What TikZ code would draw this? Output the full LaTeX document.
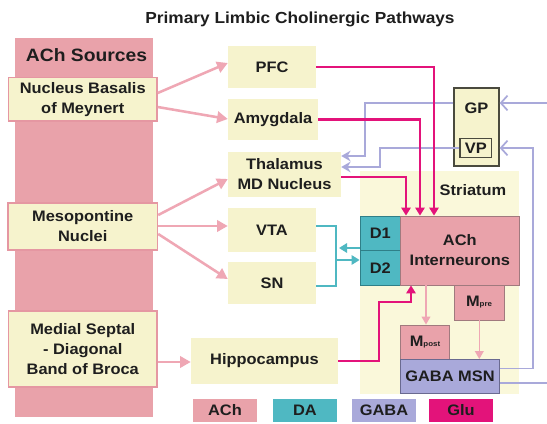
\documentclass[tikz,border=0pt]{standalone}
\usepackage{fontspec}
\setmainfont[FakeStretch=1.08]{Liberation Sans}
\usetikzlibrary{fit,arrows.meta}
\definecolor{achpink}{HTML}{E9A2AA}
\definecolor{arrpink}{HTML}{EFA7B4}
\definecolor{srcedge}{HTML}{E597A2}
\definecolor{ylw}{HTML}{F6F3CD}
\definecolor{ylwlight}{HTML}{FAF8DA}
\definecolor{datl}{HTML}{4FB8C2}
\definecolor{daedge}{HTML}{2F7F88}
\definecolor{gabac}{HTML}{A9A9DA}
\definecolor{gabaedge}{HTML}{6A6A90}
\definecolor{gluc}{HTML}{E3137A}
\definecolor{txt}{HTML}{1E1E1E}
\definecolor{achedge}{HTML}{A07A7E}
\definecolor{gpedge}{HTML}{4A4A3E}
\tikzset{
  bodyfont/.style={font=\bfseries\fontsize{11.4}{15}\selectfont},
  lbl/.style={inner sep=0pt, text=txt, align=center, bodyfont},
  srcbox/.style={fill=ylw, draw=srcedge, line width=1.1pt, inner sep=0pt},
  tgtbox/.style={fill=ylw, inner sep=0pt},
  achbox/.style={fill=achpink, draw=achedge, line width=0.6pt, inner sep=0pt},
  dabox/.style={fill=datl, draw=daedge, line width=0.6pt, inner sep=0pt},
  gababox/.style={fill=gabac, draw=gabaedge, line width=0.6pt, inner sep=0pt},
  gpbox/.style={fill=ylw, draw=gpedge, line width=1pt, inner sep=0pt},
  legbox/.style={inner sep=0pt},
  txtc/.style={label={[lbl]center:{#1}}},
  acharr/.style={draw=arrpink, line width=1.9pt, -{Triangle[length=8pt,width=8.5pt]}},
  acharrthin/.style={draw=arrpink, line width=1.2pt, -{Triangle[length=6pt,width=6.5pt]}},
  glu/.style={draw=gluc, line width=1.8pt, -{Triangle[length=6pt,width=7pt]}},
  daline/.style={draw=datl, line width=1.5pt},
  daarr/.style={draw=datl, line width=1.5pt, -{Triangle[length=6pt,width=7pt]}},
  gabaarr/.style={draw=gabac, line width=1.5pt, -{Stealth[length=7pt,width=8pt]}},
  gababarb/.style={draw=gabac, line width=1.3pt, -{Straight Barb[length=5pt,width=11pt]}}
}
\begin{document}
\begin{tikzpicture}[x=0.75pt,y=-0.75pt]
\clip (0,0) rectangle (547,424);
\fill[white] (0,0) rectangle (547,424);

% title
\node[lbl, font=\bfseries\fontsize{12}{14}\selectfont] (title) at (300,19) {Primary Limbic Cholinergic Pathways};

% ACh source column
\node[fit={(15,38.5)(152.7,417)}, inner sep=0pt, fill=achpink] (col) {};
\node[lbl, font=\bfseries\fontsize{13.4}{16}\selectfont] (colt) at (86.5,55) {ACh Sources};

\node[srcbox, fit={(8.5,77.5)(157,121)}, txtc={Nucleus Basalis\\of Meynert}] (nb) {};
\node[srcbox, fit={(8,203)(157.5,250)}, txtc={Mesopontine\\Nuclei}] (meso) {};
\node[srcbox, fit={(8.5,311)(157,387)}, txtc={Medial Septal\\- Diagonal\\Band of Broca}] (ms) {};

% targets
\node[tgtbox, fit={(228,46)(316,88)}, txtc={PFC}] (pfc) {};
\node[tgtbox, fit={(228,99)(318,140)}, txtc={Amygdala}] (amy) {};
\node[tgtbox, fit={(228,152)(341,197)}, txtc={Thalamus\\MD Nucleus}] (thal) {};
\node[tgtbox, fit={(228,208)(316,252)}, txtc={VTA}] (vta) {};
\node[tgtbox, fit={(228,262)(316,304)}, txtc={SN}] (sn) {};
\node[tgtbox, fit={(191,338)(338,384)}, txtc={Hippocampus}] (hip) {};

% striatum
\node[fit={(360,171.5)(518.5,394.5)}, inner sep=0pt, fill=ylwlight] (str) {};
\node[lbl] (strt) at (473,190) {Striatum};

% GP / VP
\node[gpbox, fit={(454,88)(499,166)}] (gp) {};
\node[lbl] (gpt) at (476.5,108) {GP};
\node[gpbox, fit={(460,138.5)(491.5,157.5)}, txtc={VP}] (vp) {};

% striatal cells
\node[dabox, fit={(360,216)(400.7,250.7)}, txtc={D1}] (d1) {};
\node[dabox, fit={(360,250.7)(400.7,285)}, txtc={D2}] (d2) {};
\node[achbox, fit={(400.7,216)(519,285)}, txtc={ACh\\Interneurons}] (ach) {};
\node[achbox, fit={(454,285)(504,320)}, txtc={M{\fontsize{5.5}{6}\selectfont pre}}] (mpre) {};
\node[achbox, fit={(400.5,325)(449.5,359.5)}, txtc={M{\fontsize{5.5}{6}\selectfont post}}] (mpost) {};
\node[gababox, fit={(400.5,359.5)(499.5,393.5)}, txtc={GABA MSN}] (msn) {};

% legend
\node[legbox, fill=achpink, fit={(193,399)(257,422)}, txtc={ACh}] (lach) {};
\node[legbox, fill=datl, fit={(273,399)(337,422)}, txtc={DA}] (lda) {};
\node[legbox, fill=gabac, fit={(352,399)(416,422)}, txtc={GABA}] (lgaba) {};
\node[legbox, fill=gluc, fit={(429,399)(493,422)}, txtc={Glu}] (lglu) {};

% GABA connectors
\draw[gabaarr] (gp.west |- 0,103) -| (365,156) -- (thal.east |- 0,156);
\draw[gabaarr] (vp.west) -| (380,167) -- (thal.east |- 0,167);
\draw[gababarb] (msn.east |- 0,368.5) -| (533,148) -- (gp.east |- 0,148);
\draw[gababarb] (msn.east |- 0,383) -| (551,103) -- (gp.east |- 0,103);

% DA connectors
\coordinate (dajoin) at (336,260);
\coordinate (d1tip) at (339,248);
\draw[daline] (vta.east |- 0,226) -| (dajoin) |- (sn.east |- 0,286);
\draw[daarr] (d1.west |- 0,248) -- (d1tip);
\draw[daarr] (dajoin) -- (d2.west |- 0,260);

% Glu connectors
\draw[glu] (pfc.east) -| (ach.north -| 434,0);
\draw[glu] (amy.east) -| (ach.north -| 420,0);
\draw[glu] (thal.east |- 0,177) -| (ach.north -| 406,0);
\draw[glu] (hip.east) -| (379,302) -| (ach.south -| 411,0);

% ACh connectors
\draw[acharr] (nb.east |- 0,93) -- (pfc.west |- 0,63);
\draw[acharr] (nb.east |- 0,107) -- (amy.west |- 0,119);
\draw[acharr] (meso.east |- 0,215) -- (thal.west |- 0,179);
\draw[acharr] (meso.east |- 0,226) -- (vta.west |- 0,226);
\draw[acharr] (meso.east |- 0,234) -- (sn.west |- 0,279);
\draw[acharr] (ms.east |- 0,362) -- (hip.west |- 0,362);
\draw[acharrthin] (ach.south -| 426,0) -- (mpost.north -| 426,0);
\draw[acharrthin] (mpre.south -| 479.3,0) -- (msn.north -| 479.3,0);
\end{tikzpicture}
\end{document}
